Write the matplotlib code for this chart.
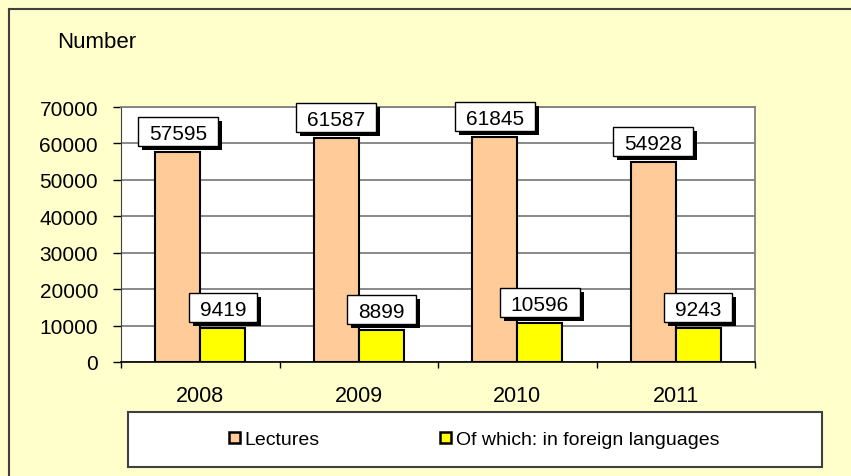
import numpy as np
import matplotlib
matplotlib.use("Agg")
import matplotlib.pyplot as plt
from matplotlib.patches import Patch, Rectangle
from matplotlib.lines import Line2D
from matplotlib.transforms import IdentityTransform

# data
years = ["2008", "2009", "2010", "2011"]
lectures = [57595, 61587, 61845, 54928]
foreign = [9419, 8899, 10596, 9243]
series_names = ["Lectures", "Of which: in foreign languages"]

BG = "#FFFFCC"
PEACH = "#FFCC99"
YELLOW = "#FFFF00"
GRID = "#808080"

W, H, DPI = 851, 477, 100
px = 72.0 / DPI  # one pixel in points

plt.rcParams['font.family'] = ['Liberation Sans', 'DejaVu Sans']

fig = plt.figure(figsize=(W / DPI, H / DPI), dpi=DPI, facecolor=BG)

# outer chart frame (left and top edges visible)
fig.add_artist(Line2D([8.5 / W, 8.5 / W], [0, 1 - 10 / H], color="#404040", lw=1.5))
fig.add_artist(Line2D([8.5 / W, 1], [1 - 10 / H, 1 - 10 / H], color="#404040", lw=1.5))

ax = fig.add_axes([121 / W, 1 - 363 / H, (755 - 121) / W, (363 - 108) / H])
ax.set_facecolor("white")

x = np.arange(len(years))
w = 0.284
b1 = ax.bar(x - w / 2, lectures, w, color=PEACH, edgecolor="black", lw=1.5, zorder=3)
b2 = ax.bar(x + w / 2, foreign, w, color=YELLOW, edgecolor="black", lw=1.5, zorder=3)

ax.set_xlim(-0.5, len(years) - 0.5)
ax.set_ylim(0, 70000)
ax.set_yticks(np.arange(0, 70001, 10000))
ax.yaxis.grid(True, color=GRID, lw=1.3, zorder=0)
ax.set_axisbelow(True)

ax.tick_params(axis="y", direction="out", length=8 * px, width=1, pad=15 * px,
               labelsize=15, colors="black")
# category boundaries as major ticks, year labels on minor ticks
ax.set_xticks(np.arange(-0.5, len(years), 1.0))
ax.set_xticklabels([])
ax.set_xticks(x, minor=True)
ax.set_xticklabels(years, minor=True)
ax.tick_params(axis="x", which="major", direction="out", length=6 * px, width=1)
ax.tick_params(axis="x", which="minor", length=0, pad=23 * px, labelsize=15.5)

for side in ["top", "right"]:
    ax.spines[side].set_color(GRID)
    ax.spines[side].set_linewidth(1.3)
ax.spines["left"].set_color("#404040")
ax.spines["bottom"].set_color("black")
ax.spines["bottom"].set_linewidth(1.2)

# value labels: white box with a black drop shadow (boxes drawn in pixels)
renderer = fig.canvas.get_renderer()
box_h = 29
for bars, vals in [(b1, lectures), (b2, foreign)]:
    for rect, v in zip(bars, vals):
        cx = rect.get_x() + rect.get_width() / 2
        t = ax.annotate(str(v), (cx, v), xytext=(0, 13 * px), textcoords="offset points",
                        ha="center", va="baseline", fontsize=15, color="black", zorder=6)
        tw = t.get_window_extent(renderer).width
        bx, by = ax.transData.transform((cx, v))
        bw = tw + 22
        x0, y0 = bx - bw / 2, by + 6
        ax.add_patch(Rectangle((x0 + 4, y0 - 4), bw, box_h, transform=IdentityTransform(),
                               fc="black", ec="black", lw=0, zorder=4, clip_on=False))
        ax.add_patch(Rectangle((x0, y0), bw, box_h, transform=IdentityTransform(),
                               fc="white", ec="black", lw=1, zorder=5, clip_on=False))

fig.text(57 / W, 1 - 43 / H, "Number", fontsize=16, ha="left", va="center")

# legend: white box across the bottom
fig.add_artist(Rectangle((128 / W, 1 - 468 / H), 694 / W, 55 / H, transform=fig.transFigure,
                         fc="white", ec="#404040", lw=1.5))
handles = [Patch(fc=PEACH, ec="black", lw=1.8), Patch(fc=YELLOW, ec="black", lw=1.8)]
fig.legend(handles, series_names, loc="center", bbox_to_anchor=(474 / W, 1 - 441 / H),
           ncol=2, frameon=False, fontsize=14, handlelength=0.55, handleheight=0.55,
           handletextpad=0.25, columnspacing=6.2)

fig.savefig("out.png", dpi=DPI, facecolor=BG)
